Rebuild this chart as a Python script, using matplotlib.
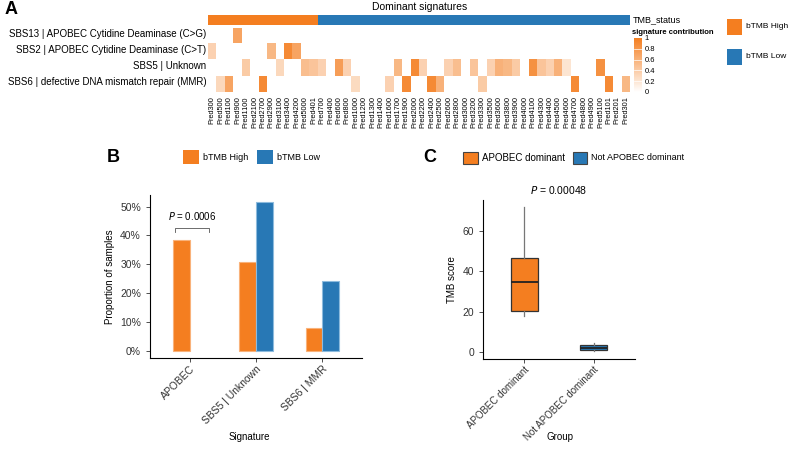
import numpy as np
import matplotlib
matplotlib.use("Agg")
import matplotlib.pyplot as plt
from matplotlib.colors import LinearSegmentedColormap, ListedColormap
from matplotlib.patches import Rectangle
from matplotlib.ticker import PercentFormatter

plt.rcParams['font.family'] = ['Liberation Sans', 'DejaVu Sans']

# ---- данные ----
samples = ['Pred300', 'Pred500', 'Pred100', 'Pred900', 'Pred1100', 'Pred2100', 'Pred2700',
           'Pred2900', 'Pred3100', 'Pred3400', 'Pred4200', 'Pred5000', 'Pred401',
           'Pred700', 'Pred400', 'Pred600', 'Pred800', 'Pred1000', 'Pred1200', 'Pred1300',
           'Pred1400', 'Pred1600', 'Pred1700', 'Pred1900', 'Pred2000', 'Pred2200', 'Pred2400',
           'Pred2500', 'Pred2600', 'Pred2800', 'Pred3000', 'Pred3200', 'Pred3300', 'Pred3500',
           'Pred3600', 'Pred3800', 'Pred3900', 'Pred4000', 'Pred4100', 'Pred4300', 'Pred4400',
           'Pred4500', 'Pred4600', 'Pred4700', 'Pred4800', 'Pred4900', 'Pred5100', 'Pred101',
           'Pred201', 'Pred301']
n_high = 13  # первые 13 образцов - bTMB High

signatures = ['SBS13 | APOBEC Cytidine Deaminase (C>G)',
              'SBS2 | APOBEC Cytidine Deaminase (C>T)',
              'SBS5 | Unknown',
              'SBS6 | defective DNA mismatch repair (MMR)']

sbs13 = {'Pred900': 0.7}
sbs2 = {'Pred300': 0.35, 'Pred2900': 0.55, 'Pred3400': 0.9, 'Pred4200': 0.7}
sbs5 = {'Pred1100': 0.4, 'Pred3100': 0.3, 'Pred5000': 0.5, 'Pred401': 0.45, 'Pred700': 0.35,
        'Pred600': 0.75, 'Pred800': 0.35, 'Pred1700': 0.55, 'Pred2000': 0.9, 'Pred2200': 0.35,
        'Pred2600': 0.35, 'Pred2800': 0.5, 'Pred3200': 0.45, 'Pred3500': 0.35, 'Pred3600': 0.6,
        'Pred3800': 0.55, 'Pred3900': 0.4, 'Pred4100': 0.85, 'Pred4300': 0.45, 'Pred4400': 0.35,
        'Pred4500': 0.6, 'Pred4600': 0.2, 'Pred5100': 0.85}
sbs6 = {'Pred500': 0.3, 'Pred100': 0.7, 'Pred2700': 0.9, 'Pred1000': 0.28, 'Pred1600': 0.35,
        'Pred1900': 0.9, 'Pred2400': 0.9, 'Pred2500': 0.6, 'Pred3300': 0.4, 'Pred4700': 0.9,
        'Pred101': 0.9, 'Pred301': 0.55}

b_categories = ['APOBEC', 'SBS5 | Unknown', 'SBS6 | MMR']
b_high = [0.385, 0.308, 0.077]
b_low = [0.0, 0.514, 0.243]

c_groups = ['APOBEC dominant', 'Not APOBEC dominant']
c_med = [34.8, 2.0]
c_q1 = [20.4, 1.0]
c_q3 = [46.7, 3.3]
c_whislo = [17.8, 0.5]
c_whishi = [71.9, 4.5]

ORANGE = '#F47E20'
BLUE = '#2878B5'

W, H = 788, 451
fig = plt.figure(figsize=(W / 100, H / 100), dpi=100)


def px_axes(x0, y0, x1, y1):
    return fig.add_axes([x0 / W, 1 - y1 / H, (x1 - x0) / W, (y1 - y0) / H])


def fx(x):
    return x / W


def fy(y):
    return 1 - y / H


def legend_square(x, y, w, h, color, label, fs, edge='none'):
    fig.add_artist(Rectangle((fx(x), fy(y + h)), w / W, h / H, transform=fig.transFigure,
                             facecolor=color, edgecolor=edge, lw=0.8))
    fig.text(fx(x + w + 4), fy(y + h / 2), label, fontsize=fs, va='center', ha='left')


# ---- панель A: тепловая карта ----
mat = np.array([[row.get(s, 0.0) for s in samples] for row in (sbs13, sbs2, sbs5, sbs6)])
cmap = LinearSegmentedColormap.from_list('sig', ['white', ORANGE])

ax_top = px_axes(208, 15, 630, 25)
status = np.array([[0 if i < n_high else 1 for i in range(len(samples))]])
ax_top.imshow(status, cmap=ListedColormap([ORANGE, BLUE]), aspect='auto', interpolation='nearest')
ax_top.set_axis_off()

ax_hm = px_axes(208, 28, 630, 92)
im = ax_hm.imshow(mat, cmap=cmap, vmin=0, vmax=1, aspect='auto', interpolation='nearest')
ax_hm.set_xticks(range(len(samples)))
ax_hm.set_xticklabels(samples, rotation=90, fontsize=5.3)
ax_hm.set_yticks([])
ax_hm.tick_params(length=0, pad=3)
for sp in ax_hm.spines.values():
    sp.set_visible(False)
for i, lab in enumerate(signatures):
    ax_hm.text(-0.7, i - 0.1, lab, ha='right', va='center', fontsize=7)

fig.text(fx(420), fy(7), 'Dominant signatures', ha='center', va='center', fontsize=7.5)
fig.text(fx(633), fy(20), 'TMB_status', ha='left', va='center', fontsize=6.5)
fig.text(fx(632), fy(32), 'signature contribution', ha='left', va='center',
         fontsize=5.5, fontweight='bold')

cax = px_axes(634, 38, 642, 92)
cb = fig.colorbar(im, cax=cax, ticks=[0, 0.2, 0.4, 0.6, 0.8, 1])
cb.ax.set_yticklabels(['0', '0.2', '0.4', '0.6', '0.8', '1'])
cb.outline.set_visible(False)
cb.ax.tick_params(length=0, labelsize=5.5, pad=2)
for t in [0.2, 0.4, 0.6, 0.8]:
    cb.ax.axhline(t, color='white', lw=0.5)

legend_square(727, 19, 15, 16, ORANGE, 'bTMB High', 6)
legend_square(727, 49, 15, 16, BLUE, 'bTMB Low', 6)

fig.text(fx(5), fy(9), 'A', fontsize=13, fontweight='bold', va='center', ha='left')

# ---- панель B: столбцы ----
axb = px_axes(150, 195, 362, 358)
x = np.arange(len(b_categories))
axb.bar(x - 0.125, b_high, 0.25, color=ORANGE, edgecolor='#F9B27A',
        lw=[0.8 if v > 0 else 0 for v in b_high])
axb.bar(x + 0.125, b_low, 0.25, color=BLUE, edgecolor='#8DBBDD',
        lw=[0.8 if v > 0 else 0 for v in b_low])
axb.set_xlim(-0.6, 2.6)
axb.set_ylim(-0.0257, 0.54)
axb.set_yticks([0, 0.1, 0.2, 0.3, 0.4, 0.5])
axb.yaxis.set_major_formatter(PercentFormatter(1.0, decimals=0))
axb.set_xticks(x)
axb.set_xticklabels(b_categories, rotation=45, ha='right', rotation_mode='anchor')
axb.tick_params(labelsize=7.5, labelcolor='#333333', color='#333333', length=3, width=0.6)
axb.tick_params(axis='x', pad=1)
axb.spines['top'].set_visible(False)
axb.spines['right'].set_visible(False)
axb.set_ylabel('Proportion of samples', fontsize=7)
axb.set_xlabel('Signature', fontsize=7)
axb.xaxis.set_label_coords(0.47, -0.454)
# скобка p-значения
bx0, bx1, by = -0.23, 0.29, 0.425
axb.plot([bx0, bx0, bx1, bx1], [by - 0.012, by, by, by - 0.012], color='#555555', lw=0.6)
axb.text((bx0 + bx1) / 2, by + 0.02, r'$P$ = 0.0006', ha='center', va='bottom', fontsize=7)

legend_square(183, 150, 16, 14, ORANGE, 'bTMB High', 6.5)
legend_square(257, 150, 16, 14, BLUE, 'bTMB Low', 6.5)
fig.text(fx(107), fy(157), 'B', fontsize=13, fontweight='bold', va='center', ha='left')

# ---- панель C: боксплоты ----
axc = px_axes(483, 200, 635, 359)
stats = []
for i in range(len(c_groups)):
    stats.append(dict(med=c_med[i], q1=c_q1[i], q3=c_q3[i], whislo=c_whislo[i],
                      whishi=c_whishi[i], fliers=[], label=c_groups[i]))
bp = axc.bxp(stats, positions=[0, 1], widths=0.4, patch_artist=True, showcaps=False,
             boxprops=dict(edgecolor='#333333', lw=0.9),
             whiskerprops=dict(color='#777777', lw=0.9),
             medianprops=dict(color='#222222', lw=1.3))
bp['boxes'][0].set_facecolor(ORANGE)
bp['boxes'][1].set_facecolor(BLUE)
axc.set_xlim(-0.6, 1.6)
axc.set_ylim(-3.5, 75.3)
axc.set_yticks([0, 20, 40, 60])
axc.set_xticks([0, 1])
axc.set_xticklabels(c_groups, rotation=45, ha='right', rotation_mode='anchor')
axc.tick_params(labelsize=7.5, labelcolor='#333333', color='#333333', length=3, width=0.6)
axc.tick_params(axis='x', labelsize=7, pad=1)
axc.spines['top'].set_visible(False)
axc.spines['right'].set_visible(False)
axc.set_ylabel('TMB score', fontsize=7)
axc.set_xlabel('Group', fontsize=7)
axc.xaxis.set_label_coords(0.506, -0.459)
axc.set_title(r'$P$ = 0.00048', fontsize=7.5, pad=4)

legend_square(463, 152, 15, 12, ORANGE, 'APOBEC dominant', 7, edge='#444444')
legend_square(573, 152, 14, 12, BLUE, 'Not APOBEC dominant', 6.5, edge='#444444')
fig.text(fx(423), fy(157), 'C', fontsize=13, fontweight='bold', va='center', ha='left')

fig.savefig('out.png', dpi=100)
